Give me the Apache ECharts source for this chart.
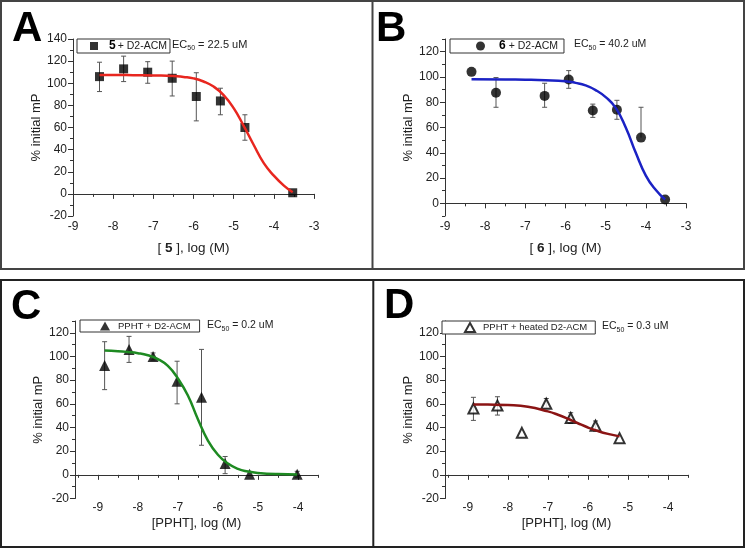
<!DOCTYPE html>
<html><head><meta charset="utf-8">
<script src="https://cdn.jsdelivr.net/npm/echarts@6/dist/echarts.min.js"></script>
<style>html,body{margin:0;padding:0;background:#fff}#c{width:745px;height:548px}</style>
</head><body><div id="c"></div>
<script>
// ---------- Panel A : compound 5 ----------
const xA  = [-8.34, -7.74, -7.14, -6.53, -5.93, -5.33, -4.72, -3.53];
const yA  = [106, 113, 110, 104.5, 88, 84, 60, 1];
const hiA = [119, 124.5, 119.5, 120, 109.5, 95.5, 71.5, null];
const loA = [92.5, 101.5, 100, 88.5, 66, 71.5, 48.5, null];
const cxA = [-8.34, -8, -7.5, -7, -6.5, -6.25, -6, -5.75, -5.5, -5.25, -5, -4.75, -4.5, -4.25, -4, -3.75, -3.53];
const cyA = [107.5, 107.5, 107.3, 107, 106.6, 105.7, 104.4, 101.6, 97, 89.3, 77.5, 61.5, 44.2, 27.8, 16.5, 7.5, 1.5];
// ---------- Panel B : compound 6 ----------
const xB  = [-8.34, -7.73, -6.52, -5.92, -5.32, -4.72, -4.12, -3.52];
const yB  = [104, 87.5, 85, 98, 73.5, 74, 52, 3];
const hiB = [null, 99.5, 95, 105, 78.5, 81.5, 76, null];
const loB = [null, 76, 76, 91, 68, 66.5, null, null];
const cxB = [-8.34, -7.5, -7, -6.5, -6, -5.75, -5.5, -5.25, -5, -4.75, -4.5, -4.25, -4, -3.75, -3.52];
const cyB = [98.2, 98, 97.8, 97.4, 96.6, 95.3, 93.3, 89.6, 84, 75.5, 60, 40, 22, 10.5, 3];
// ---------- Panel C : PPHT ----------
const xC  = [-8.83, -8.22, -7.62, -7.02, -6.41, -5.82, -5.21, -4.02];
const yC  = [92.5, 106, 100, 79, 65.5, 9.5, 0.5, 0.5];
const hiC = [112.5, 117, 103, 96, 106, 15.5, null, 3];
const loC = [72, 95, 97, 60, 25, 1, null, -2];
const cxC = [-8.83, -8.5, -8.25, -8, -7.75, -7.5, -7.25, -7, -6.75, -6.5, -6.25, -6, -5.75, -5.5, -5.25, -5, -4.5, -4.02];
const cyC = [105, 104.5, 103.8, 102.8, 101, 97.8, 92, 81.5, 67, 47, 29, 17, 9.5, 5, 2.8, 1.6, 0.6, 0.3];
// ---------- Panel D : PPHT + heated ----------
const xD  = [-8.86, -8.26, -7.65, -7.04, -6.43, -5.81, -5.21];
const yD  = [56, 58.5, 35.5, 60, 48, 41.5, 31];
const hiD = [65.5, 66, null, 64.5, 52.5, 45.5, null];
const loD = [46, 50.5, null, 56.5, 43.5, 37, null];
const cxD = [-8.86, -8.5, -8, -7.5, -7, -6.75, -6.5, -6.25, -6, -5.75, -5.5, -5.21];
const cyD = [59.5, 59.4, 59, 57.6, 53.6, 50.8, 47.4, 43.6, 40, 37, 34.6, 32.5];
// ---------- tick labels ----------
const xTicksAB = [-9, -8, -7, -6, -5, -4, -3];
const xMinorAB = [-8.5, -7.5, -6.5, -5.5, -4.5, -3.5];
const xTicksCD = [-9, -8, -7, -6, -5, -4];
const xMinorCD = [-9.5, -8.5, -7.5, -6.5, -5.5, -4.5, -3.5];
const yTicksA = [-20, 0, 20, 40, 60, 80, 100, 120, 140];
const yMinorA = [-10, 10, 30, 50, 70, 90, 110, 130];
const yTicksB = [0, 20, 40, 60, 80, 100, 120];
const yMinorB = [-10, 10, 30, 50, 70, 90, 110, 130];
const yTicksCD = [-20, 0, 20, 40, 60, 80, 100, 120];
const yMinorCD = [-10, 10, 30, 50, 70, 90, 110, 130];

const FONT = '"Liberation Sans", Arial, Helvetica, sans-serif';
const TXT = '#222';
const AX = '#333';

const panels = [
  {key:'A', grid:{left:73, top:39, width:241, height:177}, xMin:-9, xMax:-3, xT:xTicksAB, xM:xMinorAB,
   yMin:-20, yMax:140, yT:yTicksA, yM:yMinorA, xName:'[ {b|5} ], log (M)', xGap:25, xLm:5, yGap:25, nfs:13.5,
   xs:xA, ys:yA, hi:hiA, lo:loA, cx:cxA, cy:cyA, color:'#e8261f', sym:'rect', size:9, fill:'#000'},
  {key:'B', grid:{left:445, top:39, width:241, height:177}, xMin:-9, xMax:-3, xT:xTicksAB, xM:xMinorAB,
   yMin:-10, yMax:130, yT:yTicksB, yM:yMinorB, xName:'[ {b|6} ], log (M)', xGap:25, xLm:5, yGap:25, nfs:13.5,
   xs:xB, ys:yB, hi:hiB, lo:loB, cx:cxB, cy:cyB, color:'#1b22c4', sym:'circle', size:10, fill:'#000'},
  {key:'C', grid:{left:75, top:321, width:243, height:177.5}, xMin:-9.57, xMax:-3.5, xT:xTicksCD, xM:xMinorCD,
   yMin:-20, yMax:130, yT:yTicksCD, yM:yMinorCD, xName:'[PPHT], log (M)', xGap:18, xLm:3, yGap:22, nfs:13,
   xs:xC, ys:yC, hi:hiC, lo:loC, cx:cxC, cy:cyC, color:'#1e8a22', sym:'triangle', size:11, fill:'#000'},
  {key:'D', grid:{left:445, top:321, width:243, height:177.5}, xMin:-9.57, xMax:-3.5, xT:xTicksCD, xM:xMinorCD,
   yMin:-20, yMax:130, yT:yTicksCD, yM:yMinorCD, xName:'[PPHT], log (M)', xGap:18, xLm:3, yGap:22, nfs:13,
   xs:xD, ys:yD, hi:hiD, lo:loD, cx:cxD, cy:cyD, color:'#8b1414', sym:'triangle', size:10, fill:'#fff'}
];

const grids = [], xAxes = [], yAxes = [], series = [];
panels.forEach((p, i) => {
  grids.push(Object.assign({containLabel:false}, p.grid));
  xAxes.push({type:'value', gridIndex:i, min:p.xMin, max:p.xMax, position:'bottom',
    name:p.xName, nameLocation:'middle', nameGap:p.xGap,
    nameTextStyle:{fontFamily:FONT, fontSize:p.nfs, color:TXT, rich:{b:{fontFamily:FONT, fontSize:p.nfs, fontWeight:'bold', color:TXT}}},
    axisLine:{show:true, lineStyle:{color:AX, width:1}},
    axisTick:{show:true, customValues:p.xT, length:5, lineStyle:{color:AX}},
    axisLabel:{show:true, customValues:p.xT, margin:p.xLm, fontFamily:FONT, fontSize:12, color:TXT},
    splitLine:{show:false}});
  xAxes.push({type:'value', gridIndex:i, min:p.xMin, max:p.xMax, position:'bottom',
    axisLine:{show:false}, axisLabel:{show:false}, splitLine:{show:false},
    axisTick:{show:true, customValues:p.xM, length:3, lineStyle:{color:AX}}});
  yAxes.push({type:'value', gridIndex:i, min:p.yMin, max:p.yMax, position:'left',
    name:'% initial mP', nameLocation:'middle', nameGap:p.yGap,
    nameTextStyle:{fontFamily:FONT, fontSize:13, color:TXT},
    axisLine:{show:true, lineStyle:{color:AX, width:1}},
    axisTick:{show:true, customValues:p.yT, length:5, lineStyle:{color:AX}},
    axisLabel:{show:true, customValues:p.yT, margin:6, fontFamily:FONT, fontSize:12, color:TXT},
    splitLine:{show:false}});
  yAxes.push({type:'value', gridIndex:i, min:p.yMin, max:p.yMax, position:'left',
    axisLine:{show:false}, axisLabel:{show:false}, splitLine:{show:false},
    axisTick:{show:true, customValues:p.yM, length:3, lineStyle:{color:AX}}});

  const errData = p.xs.map((x, k) => [x, p.ys[k],
    p.lo[k] == null ? p.ys[k] : p.lo[k], p.hi[k] == null ? p.ys[k] : p.hi[k]]);
  series.push({type:'custom', name:p.key+'err', xAxisIndex:2*i, yAxisIndex:2*i, z:2,
    encode:{x:0, y:[1,2,3]}, data:errData, silent:true,
    renderItem:function(params, api){
      const x = api.value(0), y = api.value(1), lo = api.value(2), hi = api.value(3);
      const pc = api.coord([x, y]);
      const ch = [];
      const st = {stroke:'#555', lineWidth:1};
      const cw = 2.5;
      if (hi !== y) {
        const ph = api.coord([x, hi]);
        ch.push({type:'line', shape:{x1:pc[0], y1:pc[1], x2:ph[0], y2:ph[1]}, style:st});
        ch.push({type:'line', shape:{x1:ph[0]-cw, y1:ph[1], x2:ph[0]+cw, y2:ph[1]}, style:st});
      }
      if (lo !== y) {
        const pl = api.coord([x, lo]);
        ch.push({type:'line', shape:{x1:pc[0], y1:pc[1], x2:pl[0], y2:pl[1]}, style:st});
        ch.push({type:'line', shape:{x1:pl[0]-cw, y1:pl[1], x2:pl[0]+cw, y2:pl[1]}, style:st});
      }
      return {type:'group', children:ch};
    }});
  series.push({type:'scatter', name:p.key, xAxisIndex:2*i, yAxisIndex:2*i, z:3,
    symbol:p.sym, symbolSize:p.size,
    itemStyle: p.fill === '#fff' ? {color:'#fff', borderColor:'#000', borderWidth:2} : {color:'#000'},
    data:p.xs.map((x, k) => [x, p.ys[k]])});
  series.push({type:'line', name:p.key+'fit', xAxisIndex:2*i, yAxisIndex:2*i, z:4,
    showSymbol:false, smooth:0.5, silent:true,
    lineStyle:{color:p.color, width:2.5},
    data:p.cx.map((x, k) => [x, p.cy[k]])});
});

const richLeg = (fs) => ({
  b:{fontFamily:FONT, fontSize:12, fontWeight:'bold', color:'#000', lineHeight:11, padding:[0,2,0,6]},
  b2:{fontFamily:FONT, fontSize:12, fontWeight:'bold', color:'#000', lineHeight:11, padding:[0,3,0,9]},
  n:{fontFamily:FONT, fontSize:fs, color:TXT, lineHeight:11},
  n2:{fontFamily:FONT, fontSize:fs, color:TXT, lineHeight:11, padding:[0,0,0,3]}
});
const legDefs = [
  {name:'A', left:77, top:39, pad:[1,3,1,13], iw:8, ih:8, text:'{b|5}{n|+ D2-ACM}', fs:10.5},
  {name:'B', left:450, top:39, pad:[1,6,1,26], iw:9, ih:9, text:'{b2|6}{n|+ D2-ACM}', fs:10.5},
  {name:'C', left:80, top:320, pad:[1,9,1,20], iw:10, ih:9, text:'{n2|PPHT + D2-ACM}', fs:9.5},
  {name:'D', left:442, top:321, pad:[1,8,1,22], iw:10, ih:9, text:'{n2|PPHT + heated D2-ACM}', fs:9.5}
];
const legends = legDefs.map(l => ({
  data:[l.name], left:l.left, top:l.top, padding:l.pad, itemWidth:l.iw, itemHeight:l.ih,
  borderColor:'#333', borderWidth:1, selectedMode:false, backgroundColor:'#fff',
  formatter:() => l.text, textStyle:{fontFamily:FONT, fontSize:l.fs, color:TXT, rich:richLeg(l.fs)}
}));

const ecDefs = [
  {left:172, top:39, text:'{n|EC}{s|50}{n| = 22.5 uM}', fs:11},
  {left:574, top:39, text:'{n|EC}{s|50}{n| = 40.2 uM}', fs:10.5},
  {left:207, top:320, text:'{n|EC}{s|50}{n| = 0.2 uM}', fs:10.5},
  {left:602, top:321, text:'{n|EC}{s|50}{n| = 0.3 uM}', fs:10.5}
];
const letters = [
  {t:'A', x:12, y:29}, {t:'B', x:376, y:29}, {t:'C', x:11, y:307}, {t:'D', x:384, y:306}
];
const graphic = [
  {type:'rect', shape:{x:1, y:1, width:743, height:268}, style:{fill:'none', stroke:'#444', lineWidth:2}, z:0},
  {type:'line', shape:{x1:372.5, y1:1, x2:372.5, y2:269}, style:{stroke:'#444', lineWidth:2}, z:0},
  {type:'rect', shape:{x:1, y:280, width:743, height:267}, style:{fill:'none', stroke:'#222', lineWidth:2}, z:0},
  {type:'line', shape:{x1:373.3, y1:280, x2:373.3, y2:547}, style:{stroke:'#222', lineWidth:2}, z:0}
];
ecDefs.forEach(e => graphic.push({type:'text', left:e.left, top:e.top, z:10,
  style:{text:e.text, rich:{
    n:{fontFamily:FONT, fontSize:e.fs, fill:TXT, lineHeight:14},
    s:{fontFamily:FONT, fontSize:7, fill:TXT, padding:[7,0,0,0]}}}}));
letters.forEach(l => graphic.push({type:'text', x:l.x, y:l.y, z:10,
  style:{text:l.t, font:'bold 42px ' + FONT, fill:'#000', textVerticalAlign:'middle', textAlign:'left'}}));

const chart = echarts.init(document.getElementById('c'), null, {renderer:'canvas'});
chart.setOption({
  animation:false, backgroundColor:'#fff',
  grid:grids, xAxis:xAxes, yAxis:yAxes, legend:legends, series:series, graphic:graphic
});
</script></body></html>
